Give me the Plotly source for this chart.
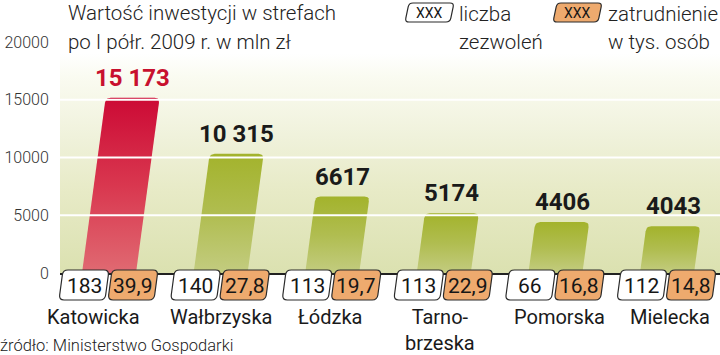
import plotly.graph_objects as go

# ---------------- data ----------------
categories = ["Katowicka", "Wałbrzyska", "Łódzka", "Tarno-<br>brzeska", "Pomorska", "Mielecka"]
investment = [15173, 10315, 6617, 5174, 4406, 4043]          # mln zł
permits = [183, 140, 113, 113, 66, 112]                       # liczba zezwoleń
employment = ["39,9", "27,8", "19,7", "22,9", "16,8", "14,8"] # tys. osób
y_ticks = [0, 5000, 10000, 15000, 20000]
highlight = "Katowicka"

# ---------------- geometry / style ----------------
W, H = 720, 355
PL, PR, PT, PB = 60, 720, 42, 273
UNIT = 111.6           # px per category
FIRST = 109            # px of first category centre
XR0 = -(FIRST - PL) / UNIT
XR1 = XR0 + (PR - PL) / UNIT
YMAX = 20000
YPX = (PB - PT) / YMAX  # px per unit
LABEL_DX = [-16, 0, -2, -4, 4, 3]   # small horizontal nudges of category labels (px)

FONT = "Roboto"

def xp(px):
    return (px - PL) / (PR - PL)

def yp(py):
    return (PB - py) / (PB - PT)

def cx_px(i):
    return PL + (i - XR0) * UNIT

def rounded_para(pts_px, r):
    n = len(pts_px)
    segs = []
    for k in range(n):
        p0 = pts_px[k - 1]
        p1 = pts_px[k]
        p2 = pts_px[(k + 1) % n]
        def towards(a, b, d):
            dx, dy = b[0] - a[0], b[1] - a[1]
            L = (dx * dx + dy * dy) ** 0.5
            return (a[0] + dx / L * d, a[1] + dy / L * d)
        a = towards(p1, p0, r)
        b = towards(p1, p2, r)
        segs.append((a, p1, b))
    path = ""
    for k, (a, c, b) in enumerate(segs):
        cmd = "M" if k == 0 else "L"
        path += f"{cmd}{xp(a[0]):.5f},{yp(a[1]):.5f} Q{xp(c[0]):.5f},{yp(c[1]):.5f} {xp(b[0]):.5f},{yp(b[1]):.5f} "
    return path + "Z"

fig = go.Figure()

# background gradient
fig.add_trace(go.Scatter(
    x=[XR0, XR1, XR1, XR0], y=[0, 0, YMAX, YMAX], fill="toself", mode="lines",
    line=dict(width=0, color="rgba(0,0,0,0)"), hoverinfo="skip", showlegend=False,
    fillgradient=dict(type="vertical", colorscale=[
        [0.0, "#dbe1b0"], [0.35, "#e7eac6"], [0.6, "#f0f2dc"], [0.85, "#fafbf1"], [0.95, "#ffffff"], [1.0, "#ffffff"]]),
))

# bars as slanted, rounded parallelograms
BW, SK, RR = 54, 0.135, 5

def qpts(p0, c, p1, n=5):
    out = []
    for k in range(1, n):
        t = k / n
        out.append(((1 - t) ** 2 * p0[0] + 2 * (1 - t) * t * c[0] + t * t * p1[0],
                    (1 - t) ** 2 * p0[1] + 2 * (1 - t) * t * c[1] + t * t * p1[1]))
    return out

for i, (cat, v) in enumerate(zip(categories, investment)):
    h = v * YPX
    tr = (BW / 2 + SK * h, h)
    tl = (-BW / 2 + SK * h, h)
    pts = [(-BW / 2, 0), (BW / 2, 0)]
    a = (BW / 2 + SK * (h - RR), h - RR)
    b = (tr[0] - RR, h)
    pts += [a] + qpts(a, tr, b) + [b]
    c = (tl[0] + RR, h)
    d = (-BW / 2 + SK * (h - RR), h - RR)
    pts += [c] + qpts(c, tl, d) + [d]
    pts.append((-BW / 2, 0))
    xs = [i + p[0] / UNIT for p in pts]
    ys = [p[1] / YPX for p in pts]
    if cat == highlight:
        cs = [[0, "#e06a72"], [0.5, "#d9374f"], [1, "#cc0a35"]]
    else:
        cs = [[0, "#c3cc80"], [0.5, "#b0bd50"], [1, "#a3b32c"]]
    fig.add_trace(go.Scatter(
        x=xs, y=ys, fill="toself", mode="lines",
        line=dict(width=0, color="rgba(0,0,0,0)"), hoverinfo="skip", showlegend=False,
        fillgradient=dict(type="vertical", colorscale=cs),
    ))
    txt = f"{v:,}".replace(",", " ") if v >= 10000 else str(v)
    fig.add_annotation(
        x=i + SK * h / UNIT, y=v, yshift=20, text=f"<b>{txt}</b>", showarrow=False,
        xanchor="center", yanchor="middle",
        font=dict(family=FONT, size=24, color="#c8102e" if cat == highlight else "#1a1a1a"),
    )

shapes = []
for t in y_ticks[1:-1]:
    shapes.append(dict(type="line", xref="paper", x0=0, x1=1, yref="y", y0=t, y1=t,
                       line=dict(color="#ffffff", width=2), layer="above"))

BOXW, BOXT, BOXB, BSK = 46, 270, 300, 4
for i in range(len(categories)):
    cx = cx_px(i)
    for k, (dxc, fill, label) in enumerate([(-25, "#ffffff", str(permits[i])),
                                            (24, "#eeaa6e", employment[i])]):
        bc = cx + dxc
        pts = [(bc - BOXW / 2 - BSK / 2, BOXB), (bc - BOXW / 2 + BSK / 2, BOXT),
               (bc + BOXW / 2 + BSK / 2, BOXT), (bc + BOXW / 2 - BSK / 2, BOXB)]
        shapes.append(dict(type="path", xref="paper", yref="paper", path=rounded_para(pts, 5),
                           fillcolor=fill, line=dict(color="#2a2a2a", width=1.2), layer="above"))
        fig.add_annotation(xref="paper", yref="paper", x=xp(bc), y=yp((BOXT + BOXB) / 2 + 1),
                           text=label, showarrow=False, xanchor="center", yanchor="middle",
                           font=dict(family=FONT, size=21, color="#161616"))
    fig.add_annotation(xref="paper", yref="paper", x=xp(cx + LABEL_DX[i]), y=yp(303), text=categories[i],
                       showarrow=False, xanchor="center", yanchor="top",
                       font=dict(family=FONT, size=20, color="#1a1a1a"))

for x0, fill in [(405, "#ffffff"), (553, "#eeaa6e")]:
    pts = [(x0, 22), (x0 + 4, 3), (x0 + 49, 3), (x0 + 45, 22)]
    shapes.append(dict(type="path", xref="paper", yref="paper", path=rounded_para(pts, 4),
                       fillcolor=fill, line=dict(color="#2a2a2a", width=1.2), layer="above"))
    fig.add_annotation(xref="paper", yref="paper", x=xp(x0 + 24.5), y=yp(12.5), text="XXX",
                       showarrow=False, xanchor="center", yanchor="middle",
                       font=dict(family=FONT, size=14, color="#161616"))

def line_text(x, y, text, size, weight=300, color="#222"):
    fig.add_annotation(xref="paper", yref="paper", x=xp(x), y=yp(y), text=text, showarrow=False,
                       xanchor="left", yanchor="middle",
                       font=dict(family=FONT, size=size, color=color, weight=weight))

line_text(457, 14, "liczba", 20.5)
line_text(457, 42, "zezwoleń", 20.5)
line_text(606, 14, "zatrudnienie", 20.5)
line_text(606, 42, "w tys. osób", 20.5)
line_text(66, 13, "Wartość inwestycji w strefach", 20.5)
line_text(66, 42, "po I półr. 2009 r. w mln zł", 20.5)
line_text(-2, 345, "źródło: Ministerstwo Gospodarki", 16.5)

fig.update_layout(
    width=W, height=H, margin=dict(l=PL, r=W - PR, t=PT, b=H - PB),
    paper_bgcolor="#ffffff", plot_bgcolor="#ffffff", shapes=shapes, showlegend=False,
    xaxis=dict(range=[XR0, XR1], showgrid=False, zeroline=False, showticklabels=False,
               showline=True, linecolor="#222222", linewidth=2, fixedrange=True),
    yaxis=dict(range=[0, YMAX], tickvals=y_ticks, ticktext=[str(t) for t in y_ticks],
               showgrid=False, zeroline=False, ticks="outside", ticklen=7, tickcolor="rgba(0,0,0,0)",
               tickfont=dict(family=FONT, size=16, color="#333333", weight=300), fixedrange=True),
)

fig.write_html("out.html")
